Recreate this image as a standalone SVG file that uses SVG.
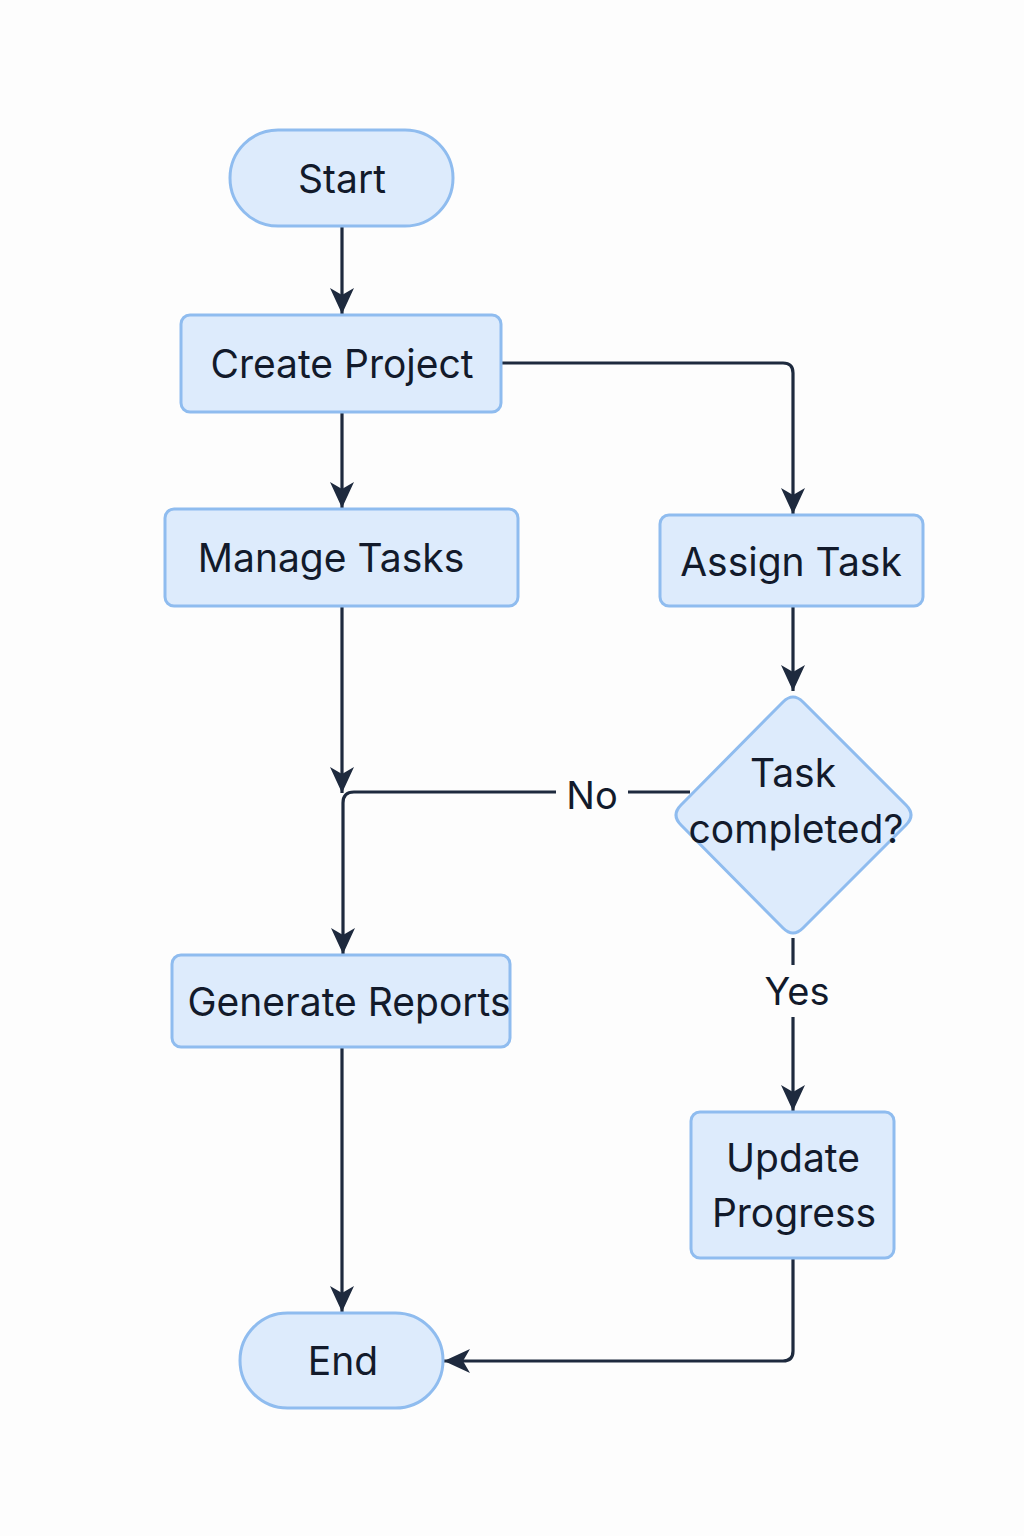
<svg xmlns="http://www.w3.org/2000/svg" width="1024" height="1536" viewBox="0 0 1024 1536">
<defs>
<style>
.node{fill:#ddebfc;stroke:#8fbcef;stroke-width:3}
.t{font-family:Inter,"Noto Sans",sans-serif;font-size:39px;fill:#121a2b;text-anchor:middle;dominant-baseline:central}
.lbl{font-family:Inter,"Noto Sans",sans-serif;font-size:38px;fill:#121a2b;text-anchor:middle;dominant-baseline:central}
.c{fill:none;stroke:#1e2a3e;stroke-width:3.2}
</style>
<marker id="ah" markerUnits="userSpaceOnUse" markerWidth="28" markerHeight="28" viewBox="0 0 28 28" refX="26" refY="14" orient="auto">
<path d="M0,2 L26,14 L0,26 L7,14 z" fill="#1e2a3e"/>
</marker>
</defs>
<rect width="1024" height="1536" fill="#fdfdfd"/>
<g id="connectors">
<path class="c" d="M342,226 V314" marker-end="url(#ah)"/>
<path class="c" d="M342,412 V508" marker-end="url(#ah)"/>
<path class="c" d="M501,363 H783 Q793,363 793,373 V514" marker-end="url(#ah)"/>
<path class="c" d="M793,606 V691" marker-end="url(#ah)"/>
<path class="c" d="M342,606 V793" marker-end="url(#ah)"/>
<path class="c" d="M556,792 H354 Q343,792 343,803 V954" marker-end="url(#ah)"/>
<path class="c" d="M690,792 H628"/>
<path class="c" d="M793,938 V965"/>
<path class="c" d="M793,1017 V1111" marker-end="url(#ah)"/>
<path class="c" d="M342,1047 V1312" marker-end="url(#ah)"/>
<path class="c" d="M793,1258 V1351 Q793,1361 783,1361 H444" marker-end="url(#ah)"/>
<text class="lbl" x="592" y="795">No</text>
<text class="lbl" x="797" y="991">Yes</text>
</g>
<g id="start">
<rect class="node" x="230" y="130" width="223" height="96" rx="48"/>
<text class="t" x="342" y="178">Start</text>
</g>
<g id="create-project">
<rect class="node" x="181" y="315" width="320" height="97" rx="9"/>
<text class="t" x="342" y="363">Create Project</text>
</g>
<g id="manage-tasks">
<rect class="node" x="165" y="509" width="353" height="97" rx="9"/>
<text class="t" x="331" y="557">Manage Tasks</text>
</g>
<g id="assign-task">
<rect class="node" x="660" y="515" width="263" height="91" rx="9"/>
<text class="t" x="791" y="561">Assign Task</text>
</g>
<g id="task-completed">
<path class="node" d="M783,702 Q793,692 803,702 L906,805 Q916,815 906,825 L803,928 Q793,938 783,928 L681,825 Q671,815 681,805 Z"/>
<text class="t" x="793" y="772">Task</text>
<text class="t" x="796" y="828">completed?</text>
</g>
<g id="generate-reports">
<rect class="node" x="172" y="955" width="338" height="92" rx="9"/>
<text class="t" x="349" y="1001">Generate Reports</text>
</g>
<g id="update-progress">
<rect class="node" x="691" y="1112" width="203" height="146" rx="9"/>
<text class="t" x="793" y="1157">Update</text>
<text class="t" x="794" y="1212">Progress</text>
</g>
<g id="end">
<rect class="node" x="240" y="1313" width="203" height="95" rx="47.5"/>
<text class="t" x="343" y="1360">End</text>
</g>
</svg>
